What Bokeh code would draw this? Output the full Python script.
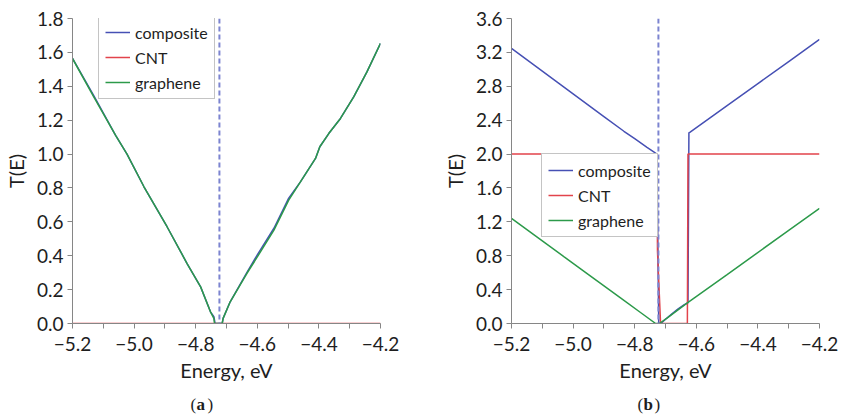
from bokeh.plotting import figure
from bokeh.layouts import row, column
from bokeh.models import (Range1d, FixedTicker, CustomJSTickFormatter, Span, Legend,
                          LegendItem, Label)
from bokeh.embed import file_html
from bokeh.resources import INLINE

# ---------------- data ----------------
fermi_level = -4.723

# panel (a)
E_a_graphene = [-5.2, -5.131, -5.06, -5.023, -4.968, -4.893, -4.828, -4.784, -4.752, -4.741,
                -4.739, -4.714, -4.711, -4.688, -4.634, -4.600, -4.546, -4.498, -4.460,
                -4.411, -4.397, -4.368, -4.330, -4.287, -4.244, -4.2]
T_a_graphene = [1.564, 1.338, 1.11, 1.0, 0.807, 0.571, 0.354, 0.216, 0.069, 0.03,
                0.0, 0.0, 0.03, 0.128, 0.295, 0.393, 0.551, 0.728, 0.836,
                0.974, 1.043, 1.121, 1.210, 1.338, 1.485, 1.653]
E_a_composite = [-5.2, -5.131, -5.06, -5.023, -4.968, -4.893, -4.828, -4.784, -4.752, -4.741,
                 -4.737, -4.714, -4.711, -4.688, -4.634, -4.600, -4.546, -4.498, -4.460,
                 -4.411, -4.397, -4.368, -4.330, -4.287, -4.244, -4.2]
T_a_composite = [1.564, 1.345, 1.11, 1.0, 0.807, 0.571, 0.354, 0.216, 0.069, 0.04,
                 0.0, 0.0, 0.03, 0.128, 0.300, 0.405, 0.562, 0.740, 0.836,
                 0.974, 1.043, 1.121, 1.210, 1.338, 1.485, 1.653]
E_a_cnt = [-5.2, -4.2]
T_a_cnt = [0.0, 0.0]

# panel (b)
E_b_composite = [-5.2, -5.1, -5.0, -4.9, -4.835, -4.8, -4.76, -4.737, -4.728, -4.722,
                 -4.715, -4.70, -4.68, -4.66, -4.64, -4.627, -4.624, -4.62, -4.5, -4.4,
                 -4.3, -4.2]
T_b_composite = [3.247, 2.979, 2.711, 2.443, 2.269, 2.181, 2.08, 2.023, 2.0, 0.0,
                 0.0, 0.05, 0.11, 0.17, 0.22, 0.245, 2.25, 2.26, 2.572, 2.832,
                 3.092, 3.353]
E_b_cnt = [-5.2, -4.728, -4.726, -4.716, -4.629, -4.627, -4.2]
T_b_cnt = [2.0, 2.0, 0.85, 0.0, 0.0, 2.0, 2.0]
E_b_graphene = [-5.2, -5.1, -5.029, -4.95, -4.845, -4.78, -4.732, -4.72, -4.694, -4.629,
                -4.5, -4.413, -4.3, -4.2]
T_b_graphene = [1.24, 0.975, 0.787, 0.578, 0.30, 0.127, 0.0, 0.0, 0.067, 0.243,
                0.578, 0.805, 1.098, 1.358]

x_ticks = [-5.2, -5.0, -4.8, -4.6, -4.4, -4.2]
x_minor_ticks = [-5.1, -4.9, -4.7, -4.5, -4.3]
y_ticks_a = [0.0, 0.2, 0.4, 0.6, 0.8, 1.0, 1.2, 1.4, 1.6, 1.8]
y_ticks_b = [0.0, 0.4, 0.8, 1.2, 1.6, 2.0, 2.4, 2.8, 3.2, 3.6]
series_names = ["composite", "CNT", "graphene"]
captions = ["a", "b"]

# ---------------- style ----------------
FONT = "Lato"
C_COMP = "#4650b4"
C_CNT = "#e2434b"
C_GRA = "#2c9a4a"
AXIS_COL = "#868686"
TEXT_COL = "#1e1e1e"
MAIN_H = 388
CAP_H = 414 - MAIN_H

fmt = CustomJSTickFormatter(code="return tick.toFixed(1).replace('-', '\u2212');")


def make_panel(w, left, right, top, bottom, ymax, yticks, data, legend_xy):
    p = figure(width=w, height=MAIN_H, min_border_left=left, min_border_right=right,
               min_border_top=top, min_border_bottom=bottom,
               x_range=Range1d(-5.2, -4.2), y_range=Range1d(0, ymax),
               output_backend="svg", toolbar_location=None, background_fill_color="white",
               border_fill_color="white")
    p.outline_line_color = None
    p.xgrid.visible = False
    p.ygrid.visible = False

    p.xaxis.ticker = FixedTicker(ticks=x_ticks, minor_ticks=x_minor_ticks)
    p.yaxis.ticker = FixedTicker(ticks=yticks, minor_ticks=[])
    for ax in (p.xaxis[0], p.yaxis[0]):
        ax.formatter = fmt
        ax.axis_line_color = AXIS_COL
        ax.axis_line_width = 1
        ax.major_tick_line_color = AXIS_COL
        ax.minor_tick_line_color = AXIS_COL
        ax.major_tick_in = 0
        ax.major_tick_out = 5
        ax.minor_tick_in = 0
        ax.minor_tick_out = 5
        ax.major_label_text_font = FONT
        ax.major_label_text_font_size = "19px"
        ax.major_label_text_color = TEXT_COL
        ax.axis_label_text_font = FONT
        ax.axis_label_text_font_size = "20px"
        ax.axis_label_text_font_style = "normal"
        ax.axis_label_text_color = TEXT_COL
    p.xaxis.axis_label = "Energy, eV"
    p.yaxis.axis_label = "T(E)"
    p.xaxis.major_label_standoff = 8
    p.xaxis.axis_label_standoff = 4
    p.yaxis.major_label_standoff = 4
    p.yaxis.axis_label_standoff = 6

    (ec, tc), (en, tn), (eg, tg) = data
    r1 = p.line(ec, tc, line_color=C_COMP, line_width=1.5)
    r2 = p.line(en, tn, line_color=C_CNT, line_width=1.5)
    r3 = p.line(eg, tg, line_color=C_GRA, line_width=1.5)

    p.add_layout(Span(location=fermi_level, dimension="height", line_color="#7c84d0",
                      line_width=2, line_dash="5 3"))

    legend = Legend(items=[LegendItem(label=series_names[0], renderers=[r1]),
                           LegendItem(label=series_names[1], renderers=[r2]),
                           LegendItem(label=series_names[2], renderers=[r3])],
                    location=legend_xy, orientation="vertical",
                    label_text_font=FONT, label_text_font_size="16px",
                    label_text_color=TEXT_COL,
                    glyph_width=25, glyph_height=20, label_height=20, label_standoff=5,
                    spacing=5, padding=6, margin=0,
                    border_line_color="#8a8a8a", border_line_width=1,
                    background_fill_color="white", background_fill_alpha=1.0)
    p.add_layout(legend)
    return p


pa = make_panel(420, 72, 40, 18, MAIN_H - 18 - 305, 1.8, y_ticks_a,
                [(E_a_composite, T_a_composite), (E_a_cnt, T_a_cnt), (E_a_graphene, T_a_graphene)],
                (26, 224))
pb = make_panel(427, 91, 28, 17, MAIN_H - 17 - 307, 3.6, y_ticks_b,
                [(E_b_composite, T_b_composite), (E_b_cnt, T_b_cnt), (E_b_graphene, T_b_graphene)],
                (30, 86))

# caption strip with "(a)" and "(b)", letters in bold
cap = figure(title=None, width=847, height=CAP_H, min_border=0,
             x_axis_location=None, y_axis_location=None,
             x_range=Range1d(0, 847), y_range=Range1d(0, CAP_H),
             output_backend="svg", toolbar_location=None)
cap.grid.visible = False
cap.outline_line_color = None
cap_x = [190, 637]
for letter, x0 in zip(captions, cap_x):
    for txt, dx, style in (("(", 0, "normal"), (letter, 6, "bold"), (")", 17, "normal")):
        cap.add_layout(Label(x=x0 + dx, y=1, text=txt,
                             text_font="Liberation Serif", text_font_size="17px",
                             text_font_style=style, text_color=TEXT_COL,
                             text_align="left", text_baseline="bottom"))

layout = column(row(pa, pb), cap)
open("out.html", "w").write(file_html(layout, INLINE))
